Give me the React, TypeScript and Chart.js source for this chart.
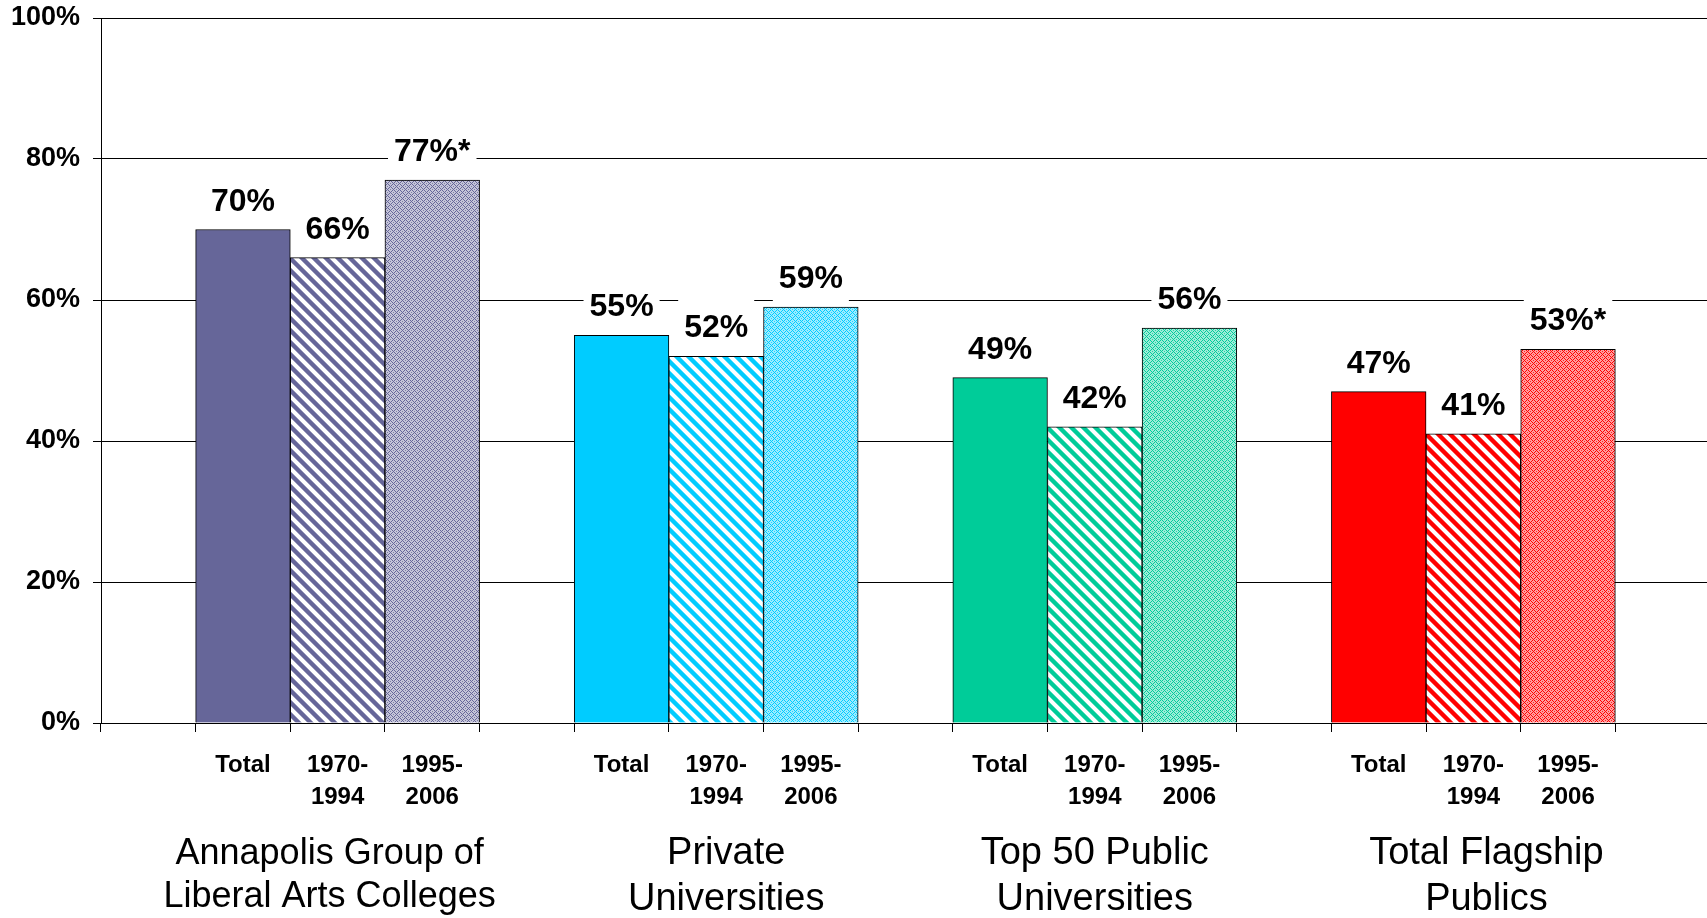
import React, { useEffect, useRef } from 'react';
import { Chart, registerables } from 'chart.js';

Chart.register(...registerables);

const groupNames: string[][] = [
  ['Annapolis Group of', 'Liberal Arts Colleges'],
  ['Private', 'Universities'],
  ['Top 50 Public', 'Universities'],
  ['Total Flagship', 'Publics'],
];
const periodLabels: string[][] = [['Total'], ['1970-', '1994'], ['1995-', '2006']];
const totalValues = [70, 55, 49, 47];
const earlyValues = [66, 52, 42, 41];
const lateValues = [77, 59, 56, 53];
const lateFootnote = [true, false, false, true];
const groupColors = ['#666699', '#00CCFF', '#00CC99', '#FF0000'];
const yTicks = [0, 20, 40, 60, 80, 100];

// layout of the group captions (separate text boxes in the original)
const groupLabelShift = [-8, 10, 0, 13];
const groupLabelSize = [36, 38, 38, 38];

const FONT = 'Arial, "Liberation Sans", sans-serif';

const slotLabels: (string | string[])[] = [];
const slotValues: (number | null)[] = [];
const slotText: string[] = [];
const slotStyle: { color: string; kind: number }[] = [];
const middleSlots: number[] = [];

groupNames.forEach((_, gi) => {
  slotLabels.push('');
  slotValues.push(null);
  slotText.push('');
  slotStyle.push({ color: '#fff', kind: -1 });
  const vals = [totalValues[gi], earlyValues[gi], lateValues[gi]];
  vals.forEach((v, pi) => {
    const lbl = periodLabels[pi];
    slotLabels.push(lbl.length === 1 ? lbl[0] : lbl);
    slotValues.push(v);
    slotText.push(v + '%' + (pi === 2 && lateFootnote[gi] ? '*' : ''));
    slotStyle.push({ color: groupColors[gi], kind: pi });
    if (pi === 1) middleSlots.push(slotLabels.length - 1);
  });
});
slotLabels.push('');
slotValues.push(null);
slotText.push('');
slotStyle.push({ color: '#fff', kind: -1 });

function hexToRgb(hex: string): [number, number, number] {
  const h = hex.replace('#', '');
  return [parseInt(h.slice(0, 2), 16), parseInt(h.slice(2, 4), 16), parseInt(h.slice(4, 6), 16)];
}

function makePattern(color: string, kind: number): CanvasPattern | string {
  const size = kind === 1 ? 12 : 6;
  const c = document.createElement('canvas');
  c.width = size;
  c.height = size;
  const ctx = c.getContext('2d')!;
  const img = ctx.createImageData(size, size);
  const [r, g, b] = hexToRgb(color);
  for (let y = 0; y < size; y++) {
    for (let x = 0; x < size; x++) {
      let a: number; // colour amount 0..1
      if (kind === 1) {
        const d = (((x - y) % size) + size) % size;
        if (d < 5) a = 0;
        else if (d === 5 || d === 11) a = 0.6;
        else a = 1;
      } else {
        const p = (x + y) % size === 0;
        const q = (((x - y) % size) + size) % size === 0;
        const p2 = (x + y) % size === 3;
        const q2 = (((x - y) % size) + size) % size === 3;
        if (p || q) a = 1;
        else if (p2 && q2) a = 0.85;
        else a = 0.38;
      }
      const i = (y * size + x) * 4;
      img.data[i] = Math.round(255 + (r - 255) * a);
      img.data[i + 1] = Math.round(255 + (g - 255) * a);
      img.data[i + 2] = Math.round(255 + (b - 255) * a);
      img.data[i + 3] = 255;
    }
  }
  ctx.putImageData(img, 0, 0);
  const pat = ctx.createPattern(c, 'repeat');
  return pat || color;
}

const labelPlugin = {
  id: 'barLabels',
  afterDatasetsDraw(chart: any) {
    const ctx = chart.ctx;
    const meta = chart.getDatasetMeta(0);
    ctx.save();
    ctx.font = 'bold 32px ' + FONT;
    ctx.textAlign = 'center';
    ctx.textBaseline = 'alphabetic';
    meta.data.forEach((bar: any, i: number) => {
      if (slotValues[i] == null) return;
      const text = slotText[i];
      const x = bar.x;
      const base = bar.y - 19;
      const w = ctx.measureText(text).width;
      ctx.fillStyle = '#ffffff';
      ctx.fillRect(x - w / 2 - 6, base - 23 - 17, w + 12, 23 + 17 + 13);
      ctx.fillStyle = '#000000';
      ctx.fillText(text, x, base);
    });
    ctx.restore();
  },
  afterDraw(chart: any) {
    const ctx = chart.ctx;
    const xs = chart.scales.x;
    const bottom = chart.chartArea.bottom;
    ctx.save();
    ctx.textAlign = 'center';
    ctx.textBaseline = 'alphabetic';
    ctx.fillStyle = '#000000';
    groupNames.forEach((lines, gi) => {
      const size = groupLabelSize[gi];
      ctx.font = size + 'px ' + FONT;
      const x = xs.getPixelForValue(middleSlots[gi]) + groupLabelShift[gi];
      lines.forEach((line, li) => {
        ctx.fillText(line, x, bottom + 141 + li * size * 1.2);
      });
    });
    ctx.restore();
  },
};

export default function App() {
  const ref = useRef<HTMLCanvasElement | null>(null);

  useEffect(() => {
    document.body.style.margin = '0';
    const canvas = ref.current;
    if (!canvas) return;
    const bg = slotStyle.map((s) => (s.kind <= 0 ? s.color : makePattern(s.color, s.kind)));
    const chart = new Chart(canvas, {
      type: 'bar',
      data: {
        labels: slotLabels,
        datasets: [
          {
            data: slotValues as any,
            backgroundColor: bg as any,
            borderColor: '#000000',
            borderWidth: 1,
            barPercentage: 1,
            categoryPercentage: 1,
          },
        ],
      },
      options: {
        responsive: false,
        animation: false,
        layout: { padding: { top: 18, right: 1, left: 0, bottom: 0 } },
        plugins: {
          legend: { display: false },
          tooltip: { enabled: false },
        },
        scales: {
          x: {
            offset: true,
            grid: {
              display: true,
              offset: true,
              drawOnChartArea: false,
              drawTicks: true,
              tickLength: 9,
              color: '#000000',
              tickColor: '#000000',
            },
            border: { display: true, color: '#000000', width: 1 },
            ticks: {
              autoSkip: false,
              maxRotation: 0,
              minRotation: 0,
              padding: 17,
              color: '#000000',
              font: { family: FONT, size: 24, weight: 'bold', lineHeight: 1.33 },
            },
            afterFit(scale: any) {
              scale.height = 195;
              scale.paddingLeft = 0;
              scale.paddingRight = 0;
            },
          },
          y: {
            min: 0,
            max: 100,
            afterBuildTicks(scale: any) {
              scale.ticks = yTicks.map((v) => ({ value: v }));
            },
            grid: {
              color: '#000000',
              lineWidth: 1,
              tickLength: 8,
              tickColor: '#000000',
              drawTicks: true,
            },
            border: { display: true, color: '#000000', width: 1 },
            ticks: {
              padding: 13,
              color: '#000000',
              font: { family: FONT, size: 27, weight: 'bold' },
              callback: (v: any) => v + '%',
            },
            afterFit(scale: any) {
              scale.width = 101;
              scale.paddingTop = 0;
              scale.paddingBottom = 0;
            },
          },
        },
      },
      plugins: [labelPlugin],
    });
    return () => chart.destroy();
  }, []);

  return (
    <div style={{ width: 1707, height: 918, overflow: 'hidden', background: '#fff' }}>
      <canvas ref={ref} width={1711} height={918} style={{ display: 'block' }} />
    </div>
  );
}
